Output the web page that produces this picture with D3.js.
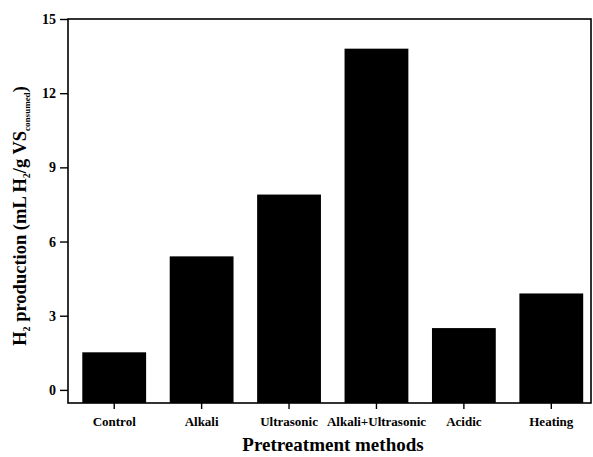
<!DOCTYPE html>
<html><head><meta charset="utf-8">
<script src="https://cdn.jsdelivr.net/npm/d3@7"></script>
<style>body{margin:0;background:#fff;} svg{display:block;}</style>
</head><body>
<script>
const categories = ["Control","Alkali","Ultrasonic","Alkali+Ultrasonic","Acidic","Heating"];
const values = [1.52, 5.4, 7.9, 13.8, 2.5, 3.9];
const yTicks = [0,3,6,9,12,15];

const W = 593, H = 457;
const L = 68, R = 591, T = 19, B = 403;
const svg = d3.select("body").append("svg").attr("width", W).attr("height", H);
const font = "'Liberation Serif','Times New Roman',serif";

const x = d3.scaleBand().domain(categories).range([70.5, 595]).paddingInner(0.27).paddingOuter(0.135);
const y = d3.scaleLinear().domain([-0.53, 15]).range([B, T]);

svg.append("g").selectAll("rect").data(values).join("rect")
  .attr("x", (d,i) => x(categories[i]))
  .attr("width", x.bandwidth())
  .attr("y", d => y(d))
  .attr("height", d => y(-0.53) - y(d))
  .attr("fill", "#000");

// frame
svg.append("rect").attr("x", L).attr("y", T).attr("width", R - L).attr("height", B - T)
  .attr("fill", "none").attr("stroke", "#000").attr("stroke-width", 1.6);

// y axis
const ya = svg.append("g").attr("transform", `translate(${L},0)`)
  .call(d3.axisLeft(y).tickValues(yTicks).tickSize(8).tickPadding(4).tickFormat(d3.format("d")));
ya.select(".domain").remove();
ya.selectAll("line").attr("stroke-width", 1.4);
ya.selectAll("text").attr("font-family", font).attr("font-weight", "bold").attr("font-size", 14).attr("fill", "#000");

// x axis
const xa = svg.append("g").attr("transform", `translate(0,${B})`)
  .call(d3.axisBottom(x).tickSize(6).tickPadding(8));
xa.select(".domain").remove();
xa.selectAll("line").attr("stroke-width", 1.4);
xa.selectAll("text").attr("font-family", font).attr("font-weight", "bold").attr("font-size", 13).attr("fill", "#000");

// axis titles
svg.append("text").attr("x", 333).attr("y", 451).attr("text-anchor", "middle")
  .attr("font-family", font).attr("font-weight", "bold").attr("font-size", 19)
  .text("Pretreatment methods");

const yt = svg.append("text").attr("transform", "translate(26,216) rotate(-90)")
  .attr("text-anchor", "middle").attr("font-family", font).attr("font-weight", "bold").attr("font-size", 18.5);
yt.append("tspan").text("H");
yt.append("tspan").attr("font-size", 10).attr("dy", 4).text("2");
yt.append("tspan").attr("dy", -4).text(" production (mL H");
yt.append("tspan").attr("font-size", 10).attr("dy", 4).text("2");
yt.append("tspan").attr("dy", -4).text("/g VS");
yt.append("tspan").attr("font-size", 9).attr("dy", 4).text("consumed");
yt.append("tspan").attr("dy", -4).text(")");
</script>
</body></html>
